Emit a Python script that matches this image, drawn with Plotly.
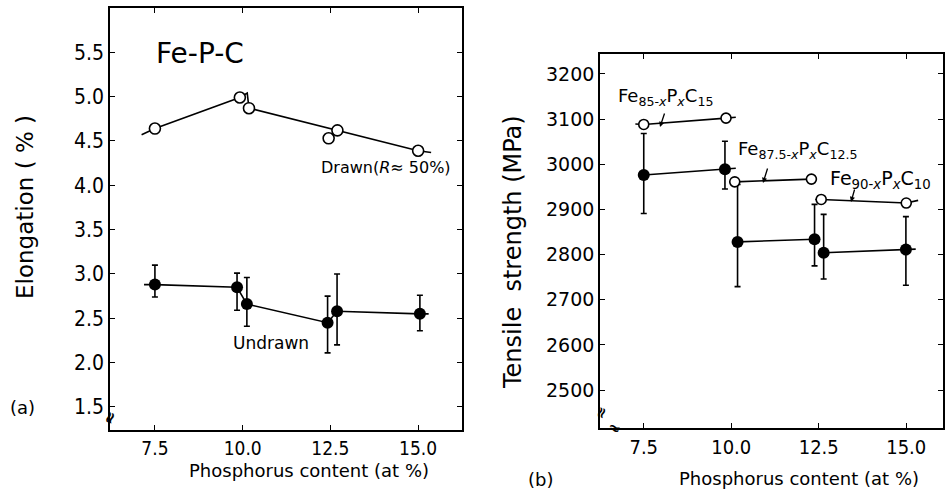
import plotly.graph_objects as go

W, H = 945, 493

# ---------------- Panel (a): Elongation ----------------
p_drawn = [7.5, 9.92, 10.18, 12.45, 12.7, 15.0]
elong_drawn = [4.64, 4.99, 4.87, 4.53, 4.62, 4.39]
drawn_line_x = [7.12, 7.5, 9.92, 10.13, 10.18, 12.7, 15.0, 15.37]
drawn_line_y = [4.57, 4.64, 4.99, 5.04, 4.87, 4.62, 4.39, 4.37]

p_undrawn = [7.5, 9.84, 10.12, 12.42, 12.69, 15.05]
elong_undrawn = [2.88, 2.85, 2.66, 2.45, 2.58, 2.55]
elong_undrawn_hi = [3.10, 3.01, 2.96, 2.75, 3.00, 2.76]
elong_undrawn_lo = [2.74, 2.59, 2.41, 2.11, 2.20, 2.36]
undrawn_line_x = [7.19, 7.5, 9.84, 10.12, 12.42, 12.69, 15.05, 15.3]
undrawn_line_y = [2.88, 2.88, 2.85, 2.66, 2.45, 2.58, 2.55, 2.55]

a_yticks = [1.5, 2.0, 2.5, 3.0, 3.5, 4.0, 4.5, 5.0, 5.5]
a_ytick_text = ["1.5", "2.0", "2.5", "3.0", "3.5", "4.0", "4.5", "5.0", "5.5"]
a_xticks = [7.5, 10.0, 12.5, 15.0]
a_xtick_text = ["7.5", "10.0", "12.5", "15.0"]

# ---------------- Panel (b): Tensile strength ----------------
s85_open_x = [7.26, 7.5, 9.85, 10.13]
s85_open_y = [3089, 3088, 3102, 3104]
s875_open_x = [9.95, 10.1, 12.29, 12.45]
s875_open_y = [2961, 2961, 2967, 2968]
s90_open_x = [12.4, 12.57, 15.0, 15.34]
s90_open_y = [2922, 2922, 2914, 2920]
open_mark_x = [7.5, 9.85, 10.1, 12.29, 12.57, 15.0]
open_mark_y = [3088, 3102, 2961, 2967, 2922, 2914]

s85_fill_x = [7.5, 9.82, 10.13]
s85_fill_y = [2976, 2989, 2991]
s875_fill_x = [10.18, 12.38]
s875_fill_y = [2828, 2834]
s90_fill_x = [12.64, 14.99, 15.27]
s90_fill_y = [2804, 2811, 2812]
fill_mark_x = [7.5, 9.82, 10.18, 12.38, 12.64, 14.99]
fill_mark_y = [2976, 2989, 2828, 2834, 2804, 2811]
fill_hi = [3068, 3051, 2955, 2911, 2889, 2884]
fill_lo = [2891, 2945, 2729, 2775, 2746, 2732]

b_yticks = [2500, 2600, 2700, 2800, 2900, 3000, 3100, 3200]
b_ytick_text = ["2500", "2600", "2700", "2800", "2900", "3000", "3100", "3200"]
b_xticks = [7.5, 10.0, 12.5, 15.0]
b_xtick_text = ["7.5", "10.0", "12.5", "15.0"]

FONT = "DejaVu Sans"
NARROW = "Liberation Sans Narrow, DejaVu Sans Condensed, sans-serif"
LW = 1.6

fig = go.Figure()

fig.add_trace(go.Scatter(x=drawn_line_x, y=drawn_line_y, mode="lines",
                         line=dict(color="black", width=LW), xaxis="x", yaxis="y", showlegend=False))
fig.add_trace(go.Scatter(x=p_drawn, y=elong_drawn, mode="markers",
                         marker=dict(symbol="circle", size=11, color="white",
                                     line=dict(color="black", width=1.6)),
                         xaxis="x", yaxis="y", showlegend=False))
fig.add_trace(go.Scatter(x=undrawn_line_x, y=undrawn_line_y, mode="lines",
                         line=dict(color="black", width=LW), xaxis="x", yaxis="y", showlegend=False))
fig.add_trace(go.Scatter(x=p_undrawn, y=elong_undrawn, mode="markers",
                         marker=dict(symbol="circle", size=12, color="black"),
                         error_y=dict(type="data", symmetric=False,
                                      array=[h - v for h, v in zip(elong_undrawn_hi, elong_undrawn)],
                                      arrayminus=[v - l for l, v in zip(elong_undrawn_lo, elong_undrawn)],
                                      color="black", thickness=1.6, width=3),
                         xaxis="x", yaxis="y", showlegend=False))

for lx, ly in [(s85_open_x, s85_open_y), (s875_open_x, s875_open_y), (s90_open_x, s90_open_y),
               (s85_fill_x, s85_fill_y), (s875_fill_x, s875_fill_y), (s90_fill_x, s90_fill_y)]:
    fig.add_trace(go.Scatter(x=lx, y=ly, mode="lines", line=dict(color="black", width=LW),
                             xaxis="x2", yaxis="y2", showlegend=False))
fig.add_trace(go.Scatter(x=fill_mark_x, y=fill_mark_y, mode="markers",
                         marker=dict(symbol="circle", size=12, color="black"),
                         error_y=dict(type="data", symmetric=False,
                                      array=[h - v for h, v in zip(fill_hi, fill_mark_y)],
                                      arrayminus=[v - l for l, v in zip(fill_lo, fill_mark_y)],
                                      color="black", thickness=1.6, width=3),
                         xaxis="x2", yaxis="y2", showlegend=False))
fig.add_trace(go.Scatter(x=open_mark_x, y=open_mark_y, mode="markers",
                         marker=dict(symbol="circle", size=10, color="white",
                                     line=dict(color="black", width=1.6)),
                         xaxis="x2", yaxis="y2", showlegend=False))

axis_common = dict(showgrid=False, zeroline=False, showline=True, linecolor="black", linewidth=1.6,
                   mirror="ticks", ticks="inside", ticklen=5, tickwidth=1.4, tickcolor="black")

fig.update_layout(
    width=W, height=H, margin=dict(l=0, r=0, t=0, b=0),
    paper_bgcolor="white", plot_bgcolor="white",
    font=dict(family=FONT, color="black"),
    xaxis=dict(domain=[110 / W, 462 / W], range=[6.22, 16.25], tickvals=a_xticks, ticktext=a_xtick_text,
               tickfont=dict(family=NARROW, size=19), anchor="y", **axis_common),
    yaxis=dict(domain=[1 - 430 / H, 1 - 8 / H], range=[1.24, 6.0], tickvals=a_yticks, ticktext=a_ytick_text,
               tickfont=dict(family=NARROW, size=21), anchor="x", **axis_common),
    xaxis2=dict(domain=[600 / W, 943 / W], range=[6.25, 16.05], tickvals=b_xticks, ticktext=b_xtick_text,
                tickfont=dict(family=NARROW, size=20), anchor="y2", **axis_common),
    yaxis2=dict(domain=[1 - 428 / H, 1 - 54 / H], range=[2416, 3244], tickvals=b_yticks, ticktext=b_ytick_text,
                tickfont=dict(family=FONT, size=19), anchor="x2", **axis_common),
)

def ann(x, y, text, size, **kw):
    d = dict(x=x / W, y=1 - y / H, xref="paper", yref="paper", text=text, showarrow=False,
             xanchor="center", yanchor="middle",
             font=dict(family=FONT, size=size, color="black"))
    d.update(kw)
    fig.add_annotation(**d)

ann(200, 53, "Fe-P-C", 28)
ann(386, 167, "Drawn(<i>R</i>≈ 50%)", 16)
ann(271, 343, "Undrawn", 17)
ann(25, 207, "Elongation ( % )", 23, textangle=-90)
ann(309, 470, "Phosphorus content (at %)", 18)
ann(22, 407, "(a)", 18)

ann(513, 252, "Tensile\u00a0\u00a0strength (MPa)", 24, textangle=-90)
ann(799, 478, "Phosphorus content (at %)", 18)
ann(540, 479, "(b)", 18)

ann(665, 97, "Fe<sub>85-<i>x</i></sub>P<sub><i>x</i></sub>C<sub>15</sub>", 18)
ann(797, 150, "Fe<sub>87.5-<i>x</i></sub>P<sub><i>x</i></sub>C<sub>12.5</sub>", 18)
ann(880, 179, "Fe<sub>90-<i>x</i></sub>P<sub><i>x</i></sub>C<sub>10</sub>", 19)

# axis-break marks
ann(109, 418, "<b>≈</b>", 16, textangle=-70)
ann(601, 413, "<b>≈</b>", 15, textangle=-70)
ann(614, 428, "<b>≈</b>", 15, textangle=20)

for (x0, y0, x1, y1) in [(665, 112, 660, 127), (768, 167, 763, 183), (855, 188, 851, 202)]:
    fig.add_annotation(x=x1 / W, y=1 - y1 / H, xref="paper", yref="paper",
                       ax=x0 - x1, ay=y0 - y1, axref="pixel", ayref="pixel",
                       text="", showarrow=True, arrowhead=2,
                       arrowsize=0.8, arrowwidth=1.3, arrowcolor="black")

fig.write_html("out.html")
